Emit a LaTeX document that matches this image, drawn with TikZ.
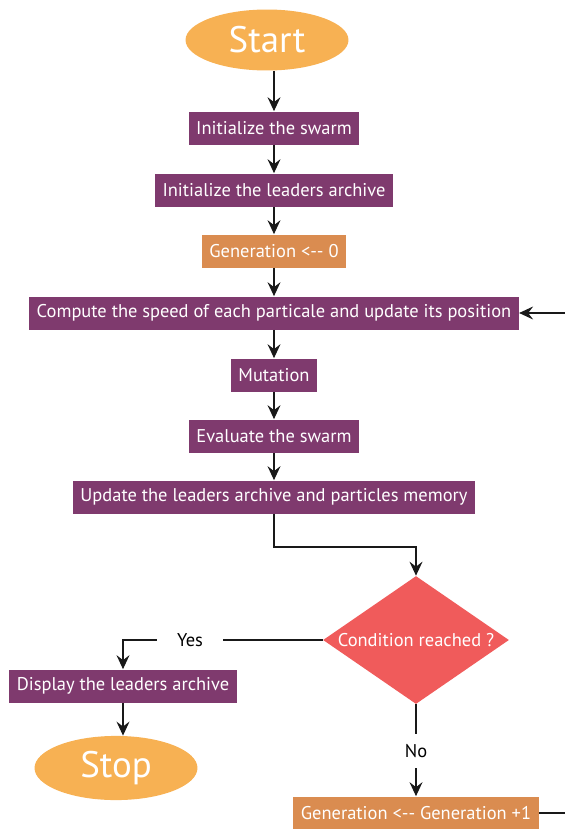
\documentclass[tikz,border=0pt]{standalone}
\usepackage{fontspec}
\setmainfont{PT Sans}
\usetikzlibrary{arrows.meta, shapes.geometric}
\definecolor{plum}{RGB}{127,58,110}
\definecolor{rust}{RGB}{218,140,80}
\definecolor{apricot}{RGB}{247,177,83}
\definecolor{coral}{RGB}{240,91,91}
\tikzstyle{process}=[fill=plum, text=white, rectangle, minimum height=0.66cm, inner xsep=0.15cm, font=\fontsize{10.5}{12}\selectfont]
\tikzstyle{counter}=[process, fill=rust]
\tikzstyle{terminal}=[fill=apricot, text=white, ellipse, minimum width=3.26cm, minimum height=1.22cm, font=\fontsize{21}{24}\selectfont]
\tikzstyle{test}=[fill=coral, text=white, diamond, aspect=1.45, minimum width=3.72cm, minimum height=2.56cm, inner sep=0pt, font=\fontsize{10.5}{12}\selectfont]
\tikzstyle{answer}=[inner xsep=0.4cm, inner ysep=0.2cm, font=\fontsize{10.5}{12}\selectfont]
\tikzstyle{flow}=[draw=black!90, line width=0.7pt, -{Stealth[length=2.8mm, width=2.6mm, inset=1mm]}]
\tikzstyle{wire}=[draw=black!90, line width=0.7pt]

\begin{document}
\begin{tikzpicture}[x=0.02cm, y=-0.02cm]
\useasboundingbox (0,0) rectangle (565,829);

\node[terminal] (start) at (267,40) {Start};
\node[process] (init) at (274,128) {Initialize the swarm};
\node[process] (archive) at (274,190) {Initialize the leaders archive};
\node[counter] (gen) at (274,251) {Generation <{-}{-} 0};
\node[process] (speed) at (274,313) {Compute the speed of each particale and update its position};
\node[process] (mutate) at (274,375) {Mutation};
\node[process] (eval) at (274,436) {Evaluate the swarm};
\node[process] (update) at (274,497) {Update the leaders archive and particles memory};
\node[test] (cond) at (416,640) {Condition reached ?};
\node[answer] (yes) at (190,640) {Yes};
\node[process] (show) at (123,686) {Display the leaders archive};
\node[terminal] (stop) at (116,768) {Stop};
\node[answer] (no) at (416,751) {No};
\node[counter] (next) at (416,813) {Generation <{-}{-} Generation +1};
\coordinate (loopin) at (565,313);
\coordinate (loopout) at (565,813);

\draw [flow] (start.south -| init.north) -- (init);
\draw [flow] (init) -- (archive);
\draw [flow] (archive) -- (gen);
\draw [flow] (gen) -- (speed);
\draw [flow] (speed) -- (mutate);
\draw [flow] (mutate) -- (eval);
\draw [flow] (eval) -- (update);
\draw [flow] (update.south) |- (416,547) -- (cond.north);
\draw [wire] (cond.west) -- (yes.east);
\draw [flow] (yes.west) -| (show.north);
\draw [flow] (show.south) -- (show.south |- stop.north);
\draw [wire] (cond.south) -- (no.north);
\draw [flow] (no.south) -- (next.north);
\draw [wire] (next.east) -- (loopout);
\draw [flow] (loopin) -- (speed.east);
\end{tikzpicture}
\end{document}
